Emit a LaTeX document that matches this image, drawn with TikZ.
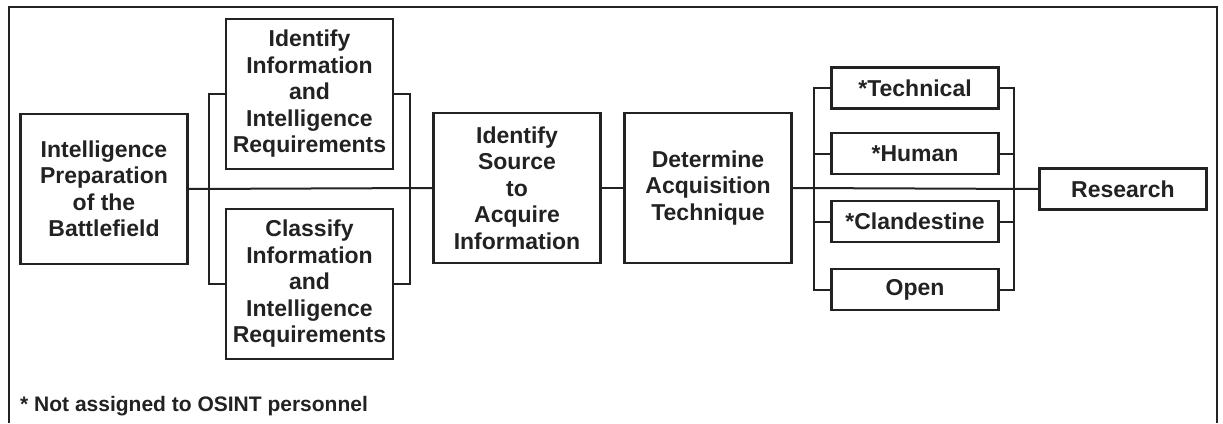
\documentclass[tikz,border=0pt]{standalone}
\usepackage{fontspec}
\setmainfont{Liberation Sans}
\definecolor{ink}{HTML}{222222}
\begin{document}
\begin{tikzpicture}[x=1pt,y=-1pt,
  every node/.style={font=\bfseries\fontsize{23}{26.5}\selectfont, text=ink, align=center, inner sep=0pt},
  bigbox/.style={draw=ink, line width=2.6pt, minimum width=167pt, minimum height=150pt},
  smallbox/.style={draw=ink, line width=2.6pt, minimum width=167pt, minimum height=41pt},
  conn/.style={draw=ink, line width=2pt}]
\useasboundingbox (0,0) rectangle (1223,423);
% frame (open at bottom)
\draw[ink, line width=2pt] (9,423) -- (9,7) -- (1217,7) -- (1217,423);
% nodes
\node[bigbox] (ipb) at (104,189) {Intelligence\\Preparation\\of the\\Battlefield};
\node[bigbox] (ident) at (309.5,94) {Identify\\Information\\and\\Intelligence\\Requirements};
\node[bigbox] (class) at (309.5,284) {Classify\\Information\\and\\Intelligence\\Requirements};
\node[bigbox] (src) at (517,188) {Identify\\Source\\to\\Acquire\\Information};
\node[bigbox] (det) at (708,188) {Determine\\Acquisition\\Technique};
\node[smallbox] (tech) at (915,88) {*Technical};
\node[smallbox] (hum) at (915,153.5) {*Human};
\node[smallbox] (cland) at (915,221.5) {*Clandestine};
\node[smallbox] (open) at (915,289.5) {Open};
\node[smallbox] (res) at (1123,189) {Research};
\node[anchor=west, font=\bfseries\fontsize{21}{24}\selectfont] (note) at (20,406) {* Not assigned to OSINT personnel};
% connectors
\draw[conn] (ipb.east) -- (src.west);
\draw[conn] (src.east) -- (det.west);
\draw[conn] (det.east) -- (res.west);
\draw[conn] (ident.west) -- ++(-16,0) |- (class.west);
\draw[conn] (ident.east) -- ++(16,0) |- (class.east);
\draw[conn] (tech.west) -- ++(-16,0) |- (open.west);
\draw[conn] (tech.east) -- ++(14,0) |- (open.east);
\draw[conn] (hum.west) -- ++(-16,0);
\draw[conn] (cland.west) -- ++(-16,0);
\draw[conn] (hum.east) -- ++(14,0);
\draw[conn] (cland.east) -- ++(14,0);
\end{tikzpicture}
\end{document}
